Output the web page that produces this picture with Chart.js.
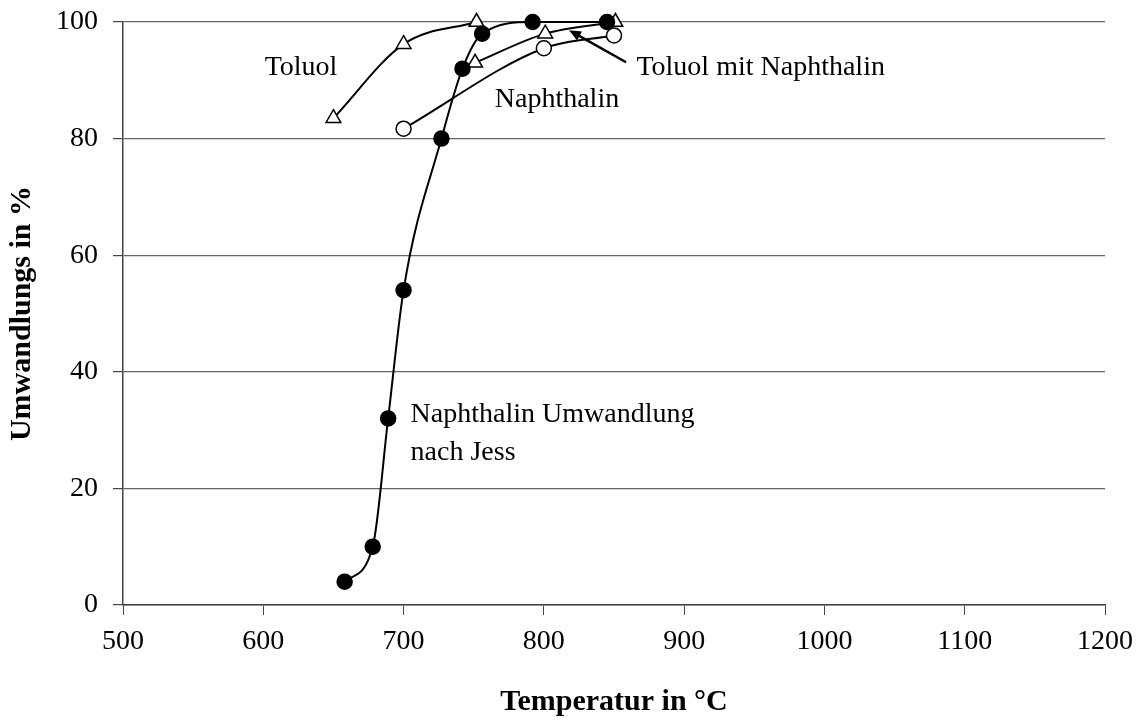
<!DOCTYPE html>
<html>
<head>
<meta charset="utf-8">
<script src="https://cdn.jsdelivr.net/npm/chart.js@4/dist/chart.umd.min.js"></script>
<style>
  html, body { margin: 0; padding: 0; background: #fff; }
  #wrap { width: 1144px; height: 724px; }
</style>
</head>
<body>
<div id="wrap"><canvas id="umwChart" width="1144" height="724"></canvas></div>
<script>
// Temperatur (°C) und Umwandlung (%) je Messreihe
var jessTemp = [658, 678, 689, 700, 727, 742, 756, 792, 845];
var jessUmw = [4, 10, 32, 54, 80, 92, 98, 100, 100];

var toluolTemp = [650, 700, 752];
var toluolUmw = [83.5, 96.2, 100];

var toluolNaphTemp = [751, 801, 851];
var toluolNaphUmw = [93, 98, 100];

var naphTemp = [700, 800, 850];
var naphUmw = [81.7, 95.5, 97.7];

var xTicks = [500, 600, 700, 800, 900, 1000, 1100, 1200];
var yTicks = [0, 20, 40, 60, 80, 100];

var serif = "'Liberation Serif', 'DejaVu Serif', serif";

function points(xs, ys) {
    var out = [];
    for (var i = 0; i < xs.length; i++) {
        out.push({ x: xs[i], y: ys[i] });
    }
    return out;
}

// Beschriftungen direkt im Diagramm (Datenkoordinaten)
var notes = [
    { text: 'Toluol', x: 601, y: 92.1 },
    { text: 'Toluol mit Naphthalin', x: 866, y: 92.1 },
    { text: 'Naphthalin', x: 765, y: 86.6 },
    { text: 'Naphthalin Umwandlung', x: 705, y: 32.6 },
    { text: 'nach Jess', x: 705, y: 26.2 }
];
var arrow = { from: { x: 858.6, y: 93.1 }, to: { x: 818, y: 98.6 } };

var notesPlugin = {
    id: 'notes',
    afterDatasetsDraw: function (chart) {
        var c = chart.ctx;
        var xs = chart.scales.x, ys = chart.scales.y;
        c.save();
        c.fillStyle = '#000';
        c.font = '28px ' + serif;
        c.textAlign = 'left';
        c.textBaseline = 'middle';
        notes.forEach(function (n) {
            c.fillText(n.text, xs.getPixelForValue(n.x), ys.getPixelForValue(n.y));
        });

        var x1 = xs.getPixelForValue(arrow.from.x), y1 = ys.getPixelForValue(arrow.from.y);
        var x2 = xs.getPixelForValue(arrow.to.x), y2 = ys.getPixelForValue(arrow.to.y);
        var ang = Math.atan2(y2 - y1, x2 - x1);
        c.strokeStyle = '#000';
        c.lineWidth = 2.5;
        c.beginPath();
        c.moveTo(x1, y1);
        c.lineTo(x2 - 6 * Math.cos(ang), y2 - 6 * Math.sin(ang));
        c.stroke();
        c.beginPath();
        c.moveTo(x2, y2);
        c.lineTo(x2 - 13 * Math.cos(ang - 0.4), y2 - 13 * Math.sin(ang - 0.4));
        c.lineTo(x2 - 13 * Math.cos(ang + 0.4), y2 - 13 * Math.sin(ang + 0.4));
        c.closePath();
        c.fill();
        c.restore();
    }
};

function series(label, xs, ys, style, filled) {
    return {
        label: label,
        data: points(xs, ys),
        showLine: true,
        borderColor: '#000',
        borderWidth: 2,
        cubicInterpolationMode: 'monotone',
        pointStyle: style,
        pointRadius: style === 'triangle' ? 8.5 : 7.5,
        pointBorderWidth: 1.5,
        pointBorderColor: '#000',
        pointBackgroundColor: filled ? '#000' : '#fff'
    };
}

var ctx = document.getElementById('umwChart').getContext('2d');
var umwChart = new Chart(ctx, {
    type: 'scatter',
    data: {
        datasets: [
            series('Naphthalin Umwandlung nach Jess', jessTemp, jessUmw, 'circle', true),
            series('Toluol', toluolTemp, toluolUmw, 'triangle', false),
            series('Toluol mit Naphthalin', toluolNaphTemp, toluolNaphUmw, 'triangle', false),
            series('Naphthalin', naphTemp, naphUmw, 'circle', false)
        ]
    },
    options: {
        responsive: false,
        animation: false,
        clip: false,
        layout: { padding: { top: 22, right: 39, left: 0, bottom: 0 } },
        plugins: {
            legend: { display: false },
            tooltip: { enabled: false }
        },
        scales: {
            x: {
                type: 'linear',
                min: 500,
                max: 1200,
                afterBuildTicks: function (scale) {
                    scale.ticks = xTicks.map(function (v) { return { value: v }; });
                },
                afterFit: function (scale) {
                    scale.height = 119;
                    scale.paddingLeft = 0;
                    scale.paddingRight = 0;
                },
                grid: {
                    drawOnChartArea: false,
                    drawTicks: true,
                    tickLength: 10,
                    color: '#444'
                },
                border: { color: '#444', width: 1.5 },
                ticks: {
                    color: '#000',
                    padding: 10,
                    font: { family: serif, size: 28 },
                    callback: function (v) { return String(v); }
                },
                title: {
                    display: true,
                    text: 'Temperatur in °C',
                    color: '#000',
                    padding: { top: 18 },
                    font: { family: serif, size: 30, weight: 'bold' }
                }
            },
            y: {
                min: 0,
                max: 100,
                afterBuildTicks: function (scale) {
                    scale.ticks = yTicks.map(function (v) { return { value: v }; });
                },
                afterFit: function (scale) {
                    scale.width = 123;
                    scale.paddingTop = 0;
                    scale.paddingBottom = 0;
                },
                grid: {
                    color: '#666',
                    lineWidth: 1.2,
                    tickLength: 10,
                    tickColor: '#444'
                },
                border: { color: '#444', width: 1.5 },
                ticks: {
                    color: '#000',
                    padding: 15,
                    font: { family: serif, size: 28 },
                    callback: function (v) { return String(v); }
                },
                title: {
                    display: true,
                    text: 'Umwandlungs in %',
                    color: '#000',
                    padding: { top: 4, bottom: 8 },
                    font: { family: serif, size: 30, weight: 'bold' }
                }
            }
        }
    },
    plugins: [notesPlugin]
});
</script>
</body>
</html>
